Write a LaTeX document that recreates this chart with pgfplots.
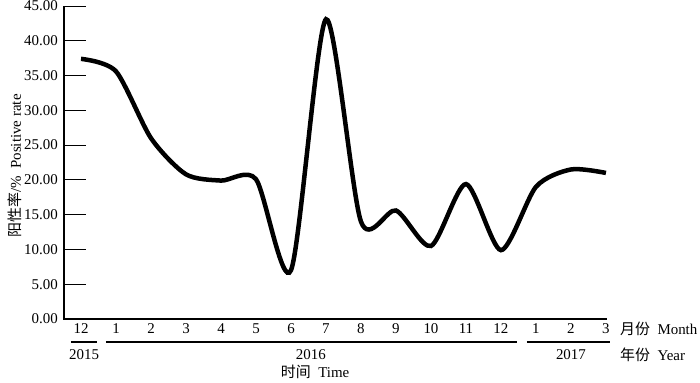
\documentclass[border=0pt]{standalone}
\usepackage{pgfplots}
\pgfplotsset{compat=1.18}
\usepackage{fontspec}
\setmainfont{Liberation Serif}
\newfontfamily\cjk{Noto Sans CJK SC}
\begin{document}
\fontsize{15}{18}\selectfont
\begin{tikzpicture}
\useasboundingbox (-64bp,-64bp) rectangle (636bp,319bp);
\begin{axis}[
  scale only axis,
  width=543bp, height=313bp,
  xmin=-0.486, xmax=15.03,
  ymin=0, ymax=45,
  axis line style={draw=none},
  clip=false,
  xtick=\empty,
  ytick={0,5,...,45},
  ytick pos=left,
  tick align=inside,
  major tick length=5bp,
  every tick/.style={line width=1pt, black},
  yticklabel style={/pgf/number format/fixed,/pgf/number format/zerofill,/pgf/number format/precision=2, xshift=-1bp},
  /pgf/number format/assume math mode=true,
  ylabel={{\cjk 阳性率}/\%\ \ Positive rate},
  ylabel style={at={(axis description cs:-0.09,0.489)}, anchor=center},
  tick label style={font=\fontsize{15}{18}\selectfont},
]
\draw[line width=1.1pt] (rel axis cs:0,1) -- (rel axis cs:0,0) -- (rel axis cs:1,0);
\pgfplotsinvokeforeach{0,5,...,45}{
  \draw[line width=1pt] (axis cs:-0.486,#1) -- ++(5bp,0);
}
\addplot[black, line width=4.5bp, smooth, tension=0.45] coordinates {
(0,37.4) (1,35.6) (2,26.0) (3,20.8) (4,19.9) (5,20.1) (6,7.0) (7,43.1)
(8,14.0) (9,15.6) (10,10.5) (11,19.4) (12,9.9) (13,19.0) (14,21.5) (15,21.0)
};
\node at ([yshift=-10bp]axis cs:0,0) {12};
\node at ([yshift=-10bp]axis cs:1,0) {1};
\node at ([yshift=-10bp]axis cs:2,0) {2};
\node at ([yshift=-10bp]axis cs:3,0) {3};
\node at ([yshift=-10bp]axis cs:4,0) {4};
\node at ([yshift=-10bp]axis cs:5,0) {5};
\node at ([yshift=-10bp]axis cs:6,0) {6};
\node at ([yshift=-10bp]axis cs:7,0) {7};
\node at ([yshift=-10bp]axis cs:8,0) {8};
\node at ([yshift=-10bp]axis cs:9,0) {9};
\node at ([yshift=-10bp]axis cs:10,0) {10};
\node at ([yshift=-10bp]axis cs:11,0) {11};
\node at ([yshift=-10bp]axis cs:12,0) {12};
\node at ([yshift=-10bp]axis cs:13,0) {1};
\node at ([yshift=-10bp]axis cs:14,0) {2};
\node at ([yshift=-10bp]axis cs:15,0) {3};
\draw[line width=1.2bp] ([yshift=-23bp]axis cs:-0.29,0) -- ([yshift=-23bp]axis cs:0.46,0);
\draw[line width=1.2bp] ([yshift=-23bp]axis cs:0.71,0) -- ([yshift=-23bp]axis cs:12.46,0);
\draw[line width=1.2bp] ([yshift=-23bp]axis cs:12.74,0) -- ([yshift=-23bp]axis cs:15.11,0);
\node at ([yshift=-36bp]axis cs:0.09,0) {2015};
\node at ([yshift=-36bp]axis cs:6.57,0) {2016};
\node at ([yshift=-36bp]axis cs:14.0,0) {2017};
\node[anchor=west, inner sep=0pt] at ([yshift=-10bp]axis cs:15.4,0) {{\cjk 月份}\ \ Month};
\node[anchor=west, inner sep=0pt] at ([yshift=-36bp]axis cs:15.4,0) {{\cjk 年份}\ \ Year};
\node at ([yshift=-53bp]axis cs:6.69,0) {{\cjk 时间}\ \ Time};
\end{axis}
\end{tikzpicture}
\end{document}
